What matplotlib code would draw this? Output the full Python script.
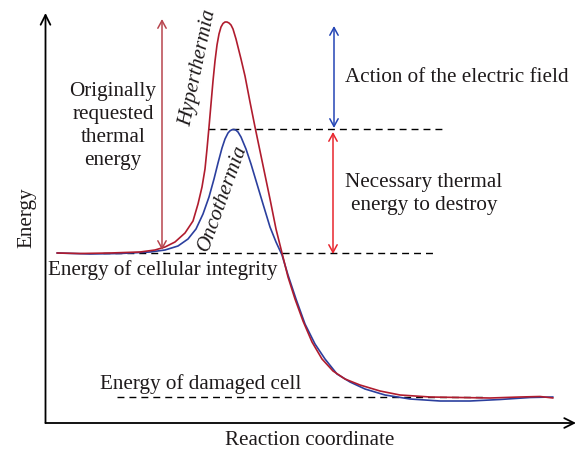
import matplotlib
matplotlib.use("Agg")
import matplotlib.pyplot as plt

# Curve shapes (x, y in picture pixels; y grows downward)
red_x = [57, 80, 110, 140, 155, 165, 175, 185, 193, 198, 202, 205, 207, 209, 211, 213, 215,
         217, 219, 221, 223, 225, 227, 229, 231, 233, 236, 241, 245, 250, 255, 260, 265, 270,
         276, 282, 288, 295, 303, 312, 322, 333, 345, 360, 380, 400, 430, 460, 490, 520, 540, 553]
red_y = [254, 254.5, 254, 253, 251, 248, 243, 234, 222, 205, 188, 170, 150, 128, 105, 82, 62,
         46, 35, 28, 24.5, 23, 23, 24, 26, 30, 40, 60, 77, 103, 128, 152, 176, 200,
         230, 254, 278, 300, 322, 343, 360, 372, 380, 386, 392, 396, 398, 398.5, 399, 398, 397.5, 399]

blue_x = [57, 90, 120, 150, 165, 178, 188, 196, 203, 209, 214, 218, 222, 225, 228, 230, 232,
          234, 236, 238, 241, 246, 251, 257, 263, 270, 276, 282, 288, 296, 305, 315, 325, 337,
          350, 365, 385, 410, 440, 470, 500, 530, 553]
blue_y = [254, 255, 254.5, 253, 251, 247, 240, 230, 215, 198, 180, 164, 149, 140, 134, 131.8, 130.7,
          130.5, 131.2, 133, 138, 150, 165, 185, 205, 228, 243, 256, 276, 300, 325, 345, 360, 375,
          383, 390, 396, 400, 402, 402, 400.5, 398.5, 398]

# Reference levels (picture pixels)
level_peak_onco = 130
level_integrity = 254
level_damaged = 398

labels = {
    "orig": "Originally\nrequested\nthermal\nenergy",
    "hyper": "Hyperthermia",
    "onco": "Oncothermia",
    "field": "Action of the electric field",
    "necessary": "Necessary thermal\nenergy to destroy",
    "integrity": "Energy of cellular integrity",
    "damaged": "Energy of damaged cell",
    "xlabel": "Reaction coordinate",
    "ylabel": "Energy",
}

W, H = 578, 452
fig = plt.figure(figsize=(W / 100, H / 100), dpi=100)
ax = fig.add_axes([0, 0, 1, 1])
ax.set_xlim(0, W)
ax.set_ylim(H, 0)
ax.axis("off")

FONT = "Liberation Serif"
FS = 15.2
TXT = "#1e1a1b"

# Axes with arrows
ax.annotate("", xy=(576, 424), xytext=(45.5, 424),
            arrowprops=dict(arrowstyle="->,head_length=0.7,head_width=0.35", color="black", lw=1.3,
                            shrinkA=0, shrinkB=0))
ax.annotate("", xy=(45.5, 14), xytext=(45.5, 424),
            arrowprops=dict(arrowstyle="->,head_length=0.7,head_width=0.35", color="black", lw=1.3,
                            shrinkA=0, shrinkB=0))

# Dashed reference lines
dash = dict(color="black", lw=1.0, dashes=(5, 3.6))
ax.plot([208, 443], [level_peak_onco, level_peak_onco], **dash)
ax.plot([103, 434], [level_integrity, level_integrity], **dash)
ax.plot([117, 486], [level_damaged, level_damaged], **dash)

# Curves
ax.plot(blue_x, blue_y, color="#2b3f9e", lw=1.2, solid_capstyle="round", solid_joinstyle="round")
ax.plot(red_x, red_y, color="#b01c2e", lw=1.2, solid_capstyle="round", solid_joinstyle="round")

# Double arrows
def darrow(x, y0, y1, color):
    ax.annotate("", xy=(x, y0), xytext=(x, y1),
                arrowprops=dict(arrowstyle="<->,head_length=0.55,head_width=0.3", color=color, lw=1.1,
                                shrinkA=0, shrinkB=0))

darrow(162, 20, 251, "#b8454e")
darrow(334, 27, 129, "#2445b5")
darrow(333, 133, 255, "#e8262e")

# Text
ax.text(113, 126, labels["orig"], ha="center", va="center", fontsize=FS, family=FONT,
        color=TXT, linespacing=1.3, multialignment="center")
ax.text(198, 68, labels["hyper"], ha="center", va="center", fontsize=FS, family=FONT,
        style="italic", rotation=78, color=TXT)
ax.text(223, 198, labels["onco"], ha="center", va="center", fontsize=FS, family=FONT,
        style="italic", rotation=70, color=TXT)
ax.text(345, 77, labels["field"], ha="left", va="center", fontsize=FS, family=FONT, color=TXT)
ax.text(424, 194, labels["necessary"], ha="center", va="center", fontsize=FS, family=FONT,
        color=TXT, linespacing=1.3, multialignment="center")
ax.text(48, 270, labels["integrity"], ha="left", va="center", fontsize=FS, family=FONT, color=TXT)
ax.text(100, 384, labels["damaged"], ha="left", va="center", fontsize=FS, family=FONT, color=TXT)
ax.text(310, 441, labels["xlabel"], ha="center", va="center", fontsize=FS, family=FONT, color=TXT)
ax.text(27, 218, labels["ylabel"], ha="center", va="center", fontsize=FS, family=FONT,
        rotation=90, color=TXT)

fig.savefig("out.png", dpi=100)
